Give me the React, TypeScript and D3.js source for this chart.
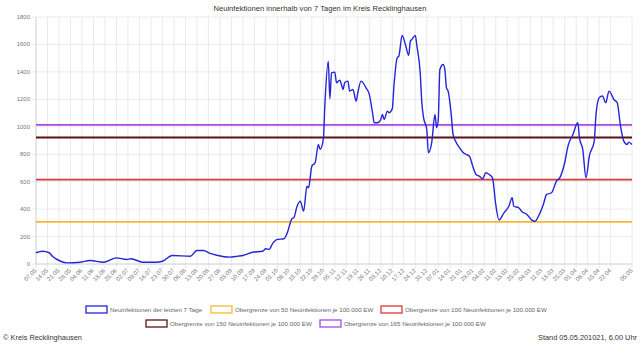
import React from "react";
import * as d3 from "d3";

const TITLE = "Neuinfektionen innerhalb von 7 Tagen im Kreis Recklinghausen";

const dates: string[] = [
  "2020-05-07","2020-05-11","2020-05-15","2020-05-17","2020-05-22","2020-05-26","2020-06-03","2020-06-09","2020-06-17","2020-06-25",
  "2020-07-01","2020-07-04","2020-07-11","2020-07-19","2020-07-23","2020-07-29","2020-08-09","2020-08-13","2020-08-17","2020-08-21",
  "2020-08-25","2020-09-02","2020-09-07","2020-09-10","2020-09-16","2020-09-22","2020-09-24","2020-09-26","2020-09-28","2020-10-01",
  "2020-10-05","2020-10-07","2020-10-10","2020-10-11","2020-10-13","2020-10-15","2020-10-17","2020-10-19","2020-10-20","2020-10-22",
  "2020-10-24","2020-10-26","2020-10-27","2020-10-29","2020-10-30","2020-11-01","2020-11-02","2020-11-03","2020-11-05","2020-11-06",
  "2020-11-08","2020-11-09","2020-11-10","2020-11-11","2020-11-13","2020-11-14","2020-11-16","2020-11-18","2020-11-19","2020-11-21",
  "2020-11-24","2020-11-26","2020-11-28","2020-11-29","2020-12-01","2020-12-03","2020-12-04","2020-12-05","2020-12-07","2020-12-08",
  "2020-12-10","2020-12-11","2020-12-13","2020-12-14","2020-12-16","2020-12-18","2020-12-20","2020-12-21","2020-12-22","2020-12-24",
  "2020-12-25","2020-12-27","2020-12-28","2020-12-29","2020-12-31","2021-01-01","2021-01-03","2021-01-05","2021-01-06","2021-01-07",
  "2021-01-08","2021-01-10","2021-01-11","2021-01-12","2021-01-13","2021-01-15","2021-01-16","2021-01-18","2021-01-20","2021-01-22",
  "2021-01-24","2021-01-26","2021-01-28","2021-01-30","2021-02-01","2021-02-03","2021-02-05","2021-02-07","2021-02-09","2021-02-11",
  "2021-02-13","2021-02-16","2021-02-19","2021-02-21","2021-02-22","2021-02-25","2021-02-27","2021-03-02","2021-03-05","2021-03-07",
  "2021-03-09","2021-03-12","2021-03-14","2021-03-17","2021-03-20","2021-03-22","2021-03-25","2021-03-27","2021-03-30","2021-04-02",
  "2021-04-03","2021-04-05","2021-04-07","2021-04-09","2021-04-12","2021-04-13","2021-04-15","2021-04-17","2021-04-19","2021-04-21",
  "2021-04-24","2021-04-26","2021-04-28","2021-04-30","2021-05-02","2021-05-03","2021-05-05"
];

const cases: number[] = [
  82, 93, 82, 57, 20, 8, 13, 25, 13, 45,
  33, 38, 13, 13, 20, 62, 57, 98, 98, 77,
  64, 50, 57, 62, 86, 93, 111, 106, 147, 179,
  184, 227, 332, 337, 421, 458, 385, 567, 555, 713,
  738, 871, 835, 908, 1175, 1478, 1204, 1394, 1398, 1321,
  1340, 1309, 1272, 1321, 1333, 1260, 1272, 1187, 1248, 1333,
  1284, 1236, 1100, 1029, 1029, 1053, 1090, 1053, 1114, 1102,
  1131, 1296, 1503, 1515, 1666, 1600, 1520, 1624, 1637, 1666,
  1588, 1394, 1175, 1070, 980, 811, 884, 1090, 993, 1053,
  1418, 1454, 1418, 1284, 1260, 1078, 944, 884, 847, 815,
  798, 786, 713, 652, 640, 621, 665, 652, 628, 434,
  320, 373, 421, 483, 421, 410, 381, 361, 320, 312,
  348, 434, 507, 519, 604, 628, 738, 859, 944, 1029,
  920, 835, 628, 786, 895, 1078, 1212, 1224, 1175, 1260,
  1199, 1175, 1005, 895, 871, 888, 871
];

const limitLabels: string[] = [
  "Obergrenze von 50 Neuinfektionen je 100.000 EW",
  "Obergrenze von 100 Neuinfektionen je 100.000 EW",
  "Obergrenze von 150 Neuinfektionen je 100.000 EW",
  "Obergrenze von 165 Neuinfektionen je 100.000 EW"
];
const limitValues: number[] = [307, 615, 922, 1014];
const limitColors: string[] = ["#f7b733", "#d83a3a", "#5a1414", "#a54be0"];

const seriesLabel = "Neuinfektionen der letzten 7 Tage";
const seriesColor = "#2424d8";

const yTicks: number[] = [0, 200, 400, 600, 800, 1000, 1200, 1400, 1600, 1800];
const firstTick = "2020-05-07";
const lastWeeklyTick = "2021-04-22";
const endTick = "2021-05-05";

const W = 640, H = 346;
const left = 36, right = 632, top = 17, bottom = 264;
const FONT = "Arial, 'Liberation Sans', Helvetica, sans-serif";

export default function App() {
  const parse = d3.timeParse("%Y-%m-%d");
  const fmt = d3.timeFormat("%d.%m");
  const start = parse(firstTick)!;
  const end = parse(endTick)!;
  const x = d3.scaleTime().domain([start, end]).range([left, right]);
  const y = d3.scaleLinear().domain([0, 1800]).range([bottom, top]);

  const xTicks = [...d3.timeDay.range(start, d3.timeDay.offset(parse(lastWeeklyTick)!, 1), 7), end];

  const pts = dates.map((d, i) => [parse(d)!, cases[i]] as [Date, number]);
  const line = d3.line<[Date, number]>().x(d => x(d[0])).y(d => y(d[1])).curve(d3.curveMonotoneX);

  const grid = "#e5e5e5";

  const legendItems = [
    { label: seriesLabel, color: seriesColor, bx: 86, row: 0 },
    { label: limitLabels[0], color: limitColors[0], bx: 211, row: 0 },
    { label: limitLabels[1], color: limitColors[1], bx: 381, row: 0 },
    { label: limitLabels[2], color: limitColors[2], bx: 146, row: 1 },
    { label: limitLabels[3], color: limitColors[3], bx: 320, row: 1 },
  ];
  const rowY = [310, 324];

  return (
    <svg width={W} height={H} style={{ position: "absolute", left: 0, top: 0, background: "#fff" }} fontFamily={FONT}>
      <rect x={0} y={0} width={W} height={H} fill="#fff" />
      <text x={320} y={11} textAnchor="middle" fontSize={7.6} fill="#333">{TITLE}</text>

      {/* horizontal grid */}
      {yTicks.map(t => (
        <g key={"y" + t}>
          <line x1={left - 4} x2={right} y1={y(t)} y2={y(t)} stroke={grid} strokeWidth={0.8} />
          <text x={left - 6} y={y(t) + 2} textAnchor="end" fontSize={6} fill="#777">{t}</text>
        </g>
      ))}
      {/* vertical grid */}
      {xTicks.map((t, i) => (
        <g key={"x" + i}>
          <line x1={x(t)} x2={x(t)} y1={top} y2={bottom + 4} stroke={grid} strokeWidth={0.8} />
          <text transform={`translate(${x(t) + 1},${bottom + 7}) rotate(-45)`} textAnchor="end" fontSize={6} fill="#777">{fmt(t)}</text>
        </g>
      ))}
      <line x1={left} x2={right} y1={bottom} y2={bottom} stroke="#d0d0d0" strokeWidth={0.8} />
      <line x1={left} x2={left} y1={top} y2={bottom} stroke="#d0d0d0" strokeWidth={0.8} />

      {/* limit lines */}
      {limitValues.map((v, i) => (
        <line key={"l" + i} x1={left} x2={right} y1={y(v)} y2={y(v)} stroke={limitColors[i]} strokeWidth={1.8} />
      ))}

      <path d={line(pts) || ""} fill="none" stroke={seriesColor} strokeWidth={1.4} />

      {/* legend */}
      {legendItems.map((it, i) => (
        <g key={"lg" + i}>
          <rect x={it.bx} y={rowY[it.row] - 4} width={21} height={7} fill="#fff" fillOpacity={0.9} stroke={it.color} strokeWidth={1.3} />
          <text x={it.bx + 24} y={rowY[it.row] + 2} fontSize={6.2} fill="#666">{it.label}</text>
        </g>
      ))}

      <text x={3} y={340} fontSize={7.4} fill="#333">© Kreis Recklinghausen</text>
      <text x={637} y={340} textAnchor="end" fontSize={7.4} fill="#333">Stand 05.05.201021, 6.00 Uhr</text>
    </svg>
  );
}
